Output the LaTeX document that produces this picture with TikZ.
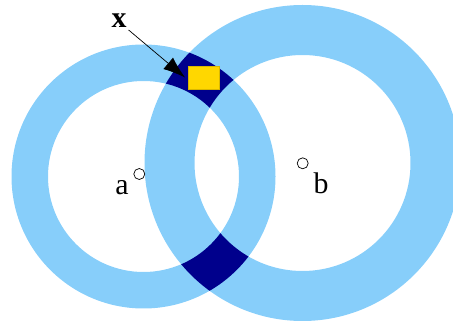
\documentclass[tikz,border=0pt]{standalone}
\usepackage{fontspec}
\setmainfont{Liberation Serif}
\usetikzlibrary{arrows.meta}
\usetikzlibrary{positioning}

\definecolor{ringblue}{RGB}{135,206,250}
\definecolor{overlapblue}{RGB}{0,0,140}
\definecolor{cellyellow}{RGB}{255,215,0}

\begin{document}
\begin{tikzpicture}[x=0.02cm,y=-0.02cm,
  ring/.style={fill=ringblue,even odd rule},
  centremark/.style={circle,draw=black,fill=white,thin,minimum size=0.22cm,inner sep=0pt},
  ptlabel/.style={font=\fontsize{17}{20}\selectfont,inner sep=1pt}]
\useasboundingbox (0,0) rectangle (453,327);
\clip (0,0) rectangle (453,327);
\coordinate (A) at (143.5,176.5);
\coordinate (B) at (302.5,163);
% the two rings
\path[ring] (A) circle (132) (A) circle (95.5);
\path[ring] (B) circle (158) (B) circle (108);
% where the rings overlap
\begin{scope}[even odd rule]
\path[clip] (A) circle (132) (A) circle (95.5);
\fill[overlapblue] (B) circle (158) (B) circle (108);
\end{scope}
\node[draw=cellyellow!85!black,fill=cellyellow,very thin,minimum width=0.61cm,minimum height=0.45cm,inner sep=0pt] (cell) at (203.5,77.5) {};
\node[centremark] (ma) at (139.3,174) {};
\node[centremark] (mb) at (302.7,163.3) {};
\node[ptlabel] (la) at (122,188) {a};
\node[ptlabel] (lb) at (321,183) {b};
\node[ptlabel,font=\fontsize{17}{20}\selectfont\bfseries] (lx) at (119,21) {x};
\draw[-{Latex[length=0.44cm,width=0.3cm]},thin] (lx.south east) -- ([xshift=-0.06cm]cell.west);
\end{tikzpicture}
\end{document}
